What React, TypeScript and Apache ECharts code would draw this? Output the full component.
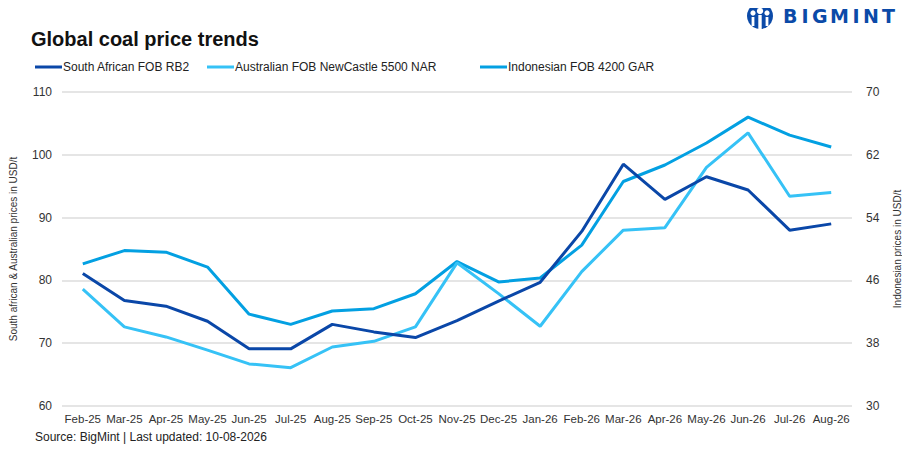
import * as echarts from "echarts"
import { useEffect, useRef } from "react"

const months = [
  "Feb-25", "Mar-25", "Apr-25", "May-25", "Jun-25", "Jul-25", "Aug-25", "Sep-25", "Oct-25", "Nov-25",
  "Dec-25", "Jan-26", "Feb-26", "Mar-26", "Apr-26", "May-26", "Jun-26", "Jul-26", "Aug-26",
]
// USD/t, left axis
const southAfrican = [81.1, 76.8, 75.9, 73.5, 69.1, 69.1, 73.0, 71.8, 70.9, 73.6, 76.7, 79.7, 87.8, 98.5, 92.9, 96.5, 94.4, 88.0, 89.0]
const australian = [78.6, 72.6, 71.0, 68.9, 66.7, 66.1, 69.4, 70.3, 72.6, 82.8, 77.9, 72.7, 81.4, 88.0, 88.4, 98.0, 103.5, 93.4, 94.0]
// USD/t, right axis
const indonesian = [48.1, 49.8, 49.6, 47.7, 41.7, 40.4, 42.1, 42.4, 44.3, 48.4, 45.8, 46.3, 50.5, 58.6, 60.7, 63.5, 66.8, 64.5, 63.0]

const seriesNames = ["South African FOB RB2", "Australian FOB NewCastle 5500 NAR", "Indonesian FOB 4200 GAR"]
const colors = ["#0a47a8", "#36c2f6", "#03a0e2"]

const font = "'Liberation Sans', Arial, sans-serif"
const logoBlue = "#0b4aa8"

export default function App() {
  const ref = useRef<HTMLDivElement>(null)

  useEffect(() => {
    if (!ref.current) return
    const chart = echarts.init(ref.current, null, { renderer: "svg" })

    const legendLefts = [30, 202, 475]
    // logo wordmark, letter by letter
    const brand = "BIGMINT".split("")
    const brandLefts = [783, 801.5, 812, 830, 852.5, 863, 882]

    chart.setOption({
      animation: false,
      textStyle: { fontFamily: font },
      title: {
        text: "Global coal price trends",
        left: 26,
        top: 24,
        textStyle: { fontSize: 20, fontWeight: "bold", color: "#111", fontFamily: font },
      },
      legend: seriesNames.map((name, i) => ({
        data: [name],
        left: legendLefts[i],
        top: 56,
        icon: "rect",
        itemWidth: 27,
        itemHeight: 3,
        textStyle: { fontSize: 12, color: "#222", padding: [0, 0, 0, -4] },
      })),
      grid: { left: 60, right: 54, top: 92, bottom: 46 },
      xAxis: {
        type: "category",
        data: months,
        boundaryGap: true,
        axisLine: { show: false },
        axisTick: { show: false },
        axisLabel: { color: "#333", fontSize: 11.5, margin: 7, interval: 0 },
      },
      yAxis: [
        {
          type: "value",
          min: 60,
          max: 110,
          interval: 10,
          name: "South african & Australian prices in USD/t",
          nameLocation: "middle",
          nameGap: 44,
          nameTextStyle: { fontSize: 10, color: "#333" },
          axisLine: { show: false },
          axisTick: { show: false },
          axisLabel: { color: "#333", fontSize: 12, margin: 10 },
          splitLine: { lineStyle: { color: "#dcdcdc", width: 1.5 } },
        },
        {
          type: "value",
          min: 30,
          max: 70,
          interval: 8,
          position: "right",
          name: "Indonesian prices in USD/t",
          nameLocation: "middle",
          nameGap: 40,
          nameTextStyle: { fontSize: 10, color: "#333" },
          axisLine: { show: false },
          axisTick: { show: false },
          axisLabel: { color: "#333", fontSize: 12, margin: 14 },
          splitLine: { show: false },
        },
      ],
      series: [
        {
          name: seriesNames[0],
          type: "line",
          data: southAfrican,
          yAxisIndex: 0,
          showSymbol: false,
          lineStyle: { width: 3, color: colors[0] },
          itemStyle: { color: colors[0] },
          z: 3,
        },
        {
          name: seriesNames[1],
          type: "line",
          data: australian,
          yAxisIndex: 0,
          showSymbol: false,
          lineStyle: { width: 3, color: colors[1] },
          itemStyle: { color: colors[1] },
          z: 2,
        },
        {
          name: seriesNames[2],
          type: "line",
          data: indonesian,
          yAxisIndex: 1,
          showSymbol: false,
          lineStyle: { width: 3, color: colors[2] },
          itemStyle: { color: colors[2] },
          z: 1,
        },
      ],
      graphic: [
        // logo emblem
        { type: "circle", shape: { cx: 760, cy: 16, r: 13 }, style: { fill: logoBlue } },
        { type: "circle", shape: { cx: 760, cy: 11, r: 3.2 }, style: { fill: "#fff" } },
        { type: "circle", shape: { cx: 753, cy: 13, r: 2.6 }, style: { fill: "#fff" } },
        { type: "circle", shape: { cx: 767, cy: 13, r: 2.6 }, style: { fill: "#fff" } },
        { type: "rect", shape: { x: 758.3, y: 15, width: 3.4, height: 14 }, style: { fill: "#fff" } },
        { type: "rect", shape: { x: 751.6, y: 17, width: 2.8, height: 9 }, style: { fill: "#fff" } },
        { type: "rect", shape: { x: 765.6, y: 17, width: 2.8, height: 9 }, style: { fill: "#fff" } },
        ...brand.map((ch, i) => ({
          type: "text",
          left: brandLefts[i],
          top: 6,
          style: { text: ch, fontSize: 19, fontWeight: "bold", fill: logoBlue, fontFamily: "'DejaVu Sans', sans-serif" },
        })),
        {
          type: "text",
          left: 35,
          top: 431,
          style: { text: "Source: BigMint | Last updated: 10-08-2026", fontSize: 12, fill: "#222", fontFamily: font },
        },
      ],
    })

    return () => chart.dispose()
  }, [])

  return <div ref={ref} style={{ width: 910, height: 452, margin: -8, background: "#fff" }} />
}
